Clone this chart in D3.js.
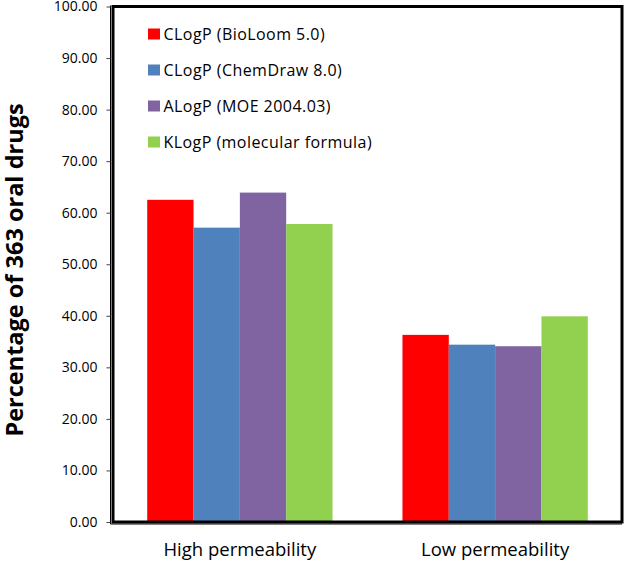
<!DOCTYPE html>
<html lang="en">
<head>
    <meta charset="UTF-8">
    <title>Oral drugs permeability</title>
    <script src="https://cdnjs.cloudflare.com/ajax/libs/d3/7.8.5/d3.min.js"></script>
    <style>
        body { margin: 0; background: #fff; }
        text { font-family: "Open Sans", Lato, sans-serif; fill: #000; }
    </style>
</head>
<body>
    <script>
        // categories and series
        var categories = ["High permeability", "Low permeability"];
        var seriesNames = ["CLogP (BioLoom 5.0)", "CLogP (ChemDraw 8.0)", "ALogP (MOE 2004.03)", "KLogP (molecular formula)"];
        var seriesColors = ["#ff0000", "#4f81bd", "#8064a2", "#92d050"];
        var highValues = [62.5, 57.1, 63.9, 57.8];
        var lowValues = [36.3, 34.4, 34.1, 39.9];
        var yTicks = [0, 10, 20, 30, 40, 50, 60, 70, 80, 90, 100];

        var width = 625, height = 563;
        // plot box edges (names avoid window.top)
        var pLeft = 113, pRight = 622, pTop = 6.5, pBottom = 522;

        var svg = d3.select("body")
            .append("svg")
            .attr("width", width)
            .attr("height", height);

        // build rows from the arrays
        var rows = categories.map(function (c, i) {
            var vals = i === 0 ? highValues : lowValues;
            return { cat: c, values: vals.map(function (v, j) { return { name: seriesNames[j], value: v, color: seriesColors[j] }; }) };
        });

        var x0 = d3.scaleBand().domain(categories).range([pLeft, pRight]).paddingInner(0.274).paddingOuter(0.134);
        var x1 = d3.scaleBand().domain(seriesNames).range([0, x0.bandwidth()]);
        var y = d3.scaleLinear().domain([0, 100]).range([pBottom, pTop]);

        // bars
        svg.append("g").selectAll("g")
            .data(rows)
            .enter()
            .append("g")
            .attr("transform", function (d) { return "translate(" + x0(d.cat) + ",0)"; })
            .selectAll("rect")
            .data(function (d) { return d.values; })
            .enter()
            .append("rect")
            .attr("x", function (d) { return x1(d.name); })
            .attr("width", x1.bandwidth())
            .attr("y", function (d) { return y(d.value); })
            .attr("height", function (d) { return y(0) - y(d.value); })
            .attr("fill", function (d) { return d.color; });

        // plot frame
        svg.append("rect")
            .attr("x", pLeft)
            .attr("y", pTop)
            .attr("width", pRight - pLeft)
            .attr("height", pBottom - pTop)
            .attr("fill", "none")
            .attr("stroke", "#000")
            .attr("stroke-width", 3);
        // second thin line on the left and bottom
        svg.append("path")
            .attr("d", "M" + (pLeft - 2.5) + "," + (pTop - 1) + "V" + (pBottom + 2) + "H" + pRight)
            .attr("fill", "none")
            .attr("stroke", "#000")
            .attr("stroke-width", 1);

        // y axis
        var yAxis = d3.axisLeft(y)
            .tickValues(yTicks)
            .tickSize(4)
            .tickPadding(9)
            .tickFormat(d3.format(".2f"));
        var gy = svg.append("g")
            .attr("transform", "translate(" + (pLeft - 2.5) + ",0)")
            .call(yAxis);
        gy.select(".domain").remove();
        gy.selectAll("line").attr("stroke", "#444");
        gy.selectAll("text")
            .style("font-size", "14px")
            .style("font-family", "'Open Sans', sans-serif")
            .attr("fill", "#000");

        // category labels
        svg.append("g").selectAll("text")
            .data(categories)
            .enter()
            .append("text")
            .attr("x", function (d) { return x0(d) + x0.bandwidth() / 2; })
            .attr("y", 556)
            .attr("text-anchor", "middle")
            .style("font-size", "18.5px")
            .text(function (d) { return d; });

        // y axis title
        svg.append("text")
            .attr("transform", "translate(23,270) rotate(-90)")
            .attr("text-anchor", "middle")
            .style("font-size", "23.5px")
            .style("font-weight", "bold")
            .text("Percentage of 363 oral drugs");

        // legend
        var legend = svg.append("g").selectAll("g")
            .data(seriesNames)
            .enter()
            .append("g")
            .attr("transform", function (d, i) { return "translate(148," + (34 + i * 36) + ")"; });
        legend.append("rect")
            .attr("x", 0)
            .attr("y", -5.5)
            .attr("width", 12)
            .attr("height", 11)
            .attr("fill", function (d, i) { return seriesColors[i]; });
        legend.append("text")
            .attr("x", 15.5)
            .attr("y", 5.5)
            .style("font-size", "16px")
            .style("letter-spacing", "0.45px")
            .text(function (d) { return d; });
    </script>
</body>
</html>
